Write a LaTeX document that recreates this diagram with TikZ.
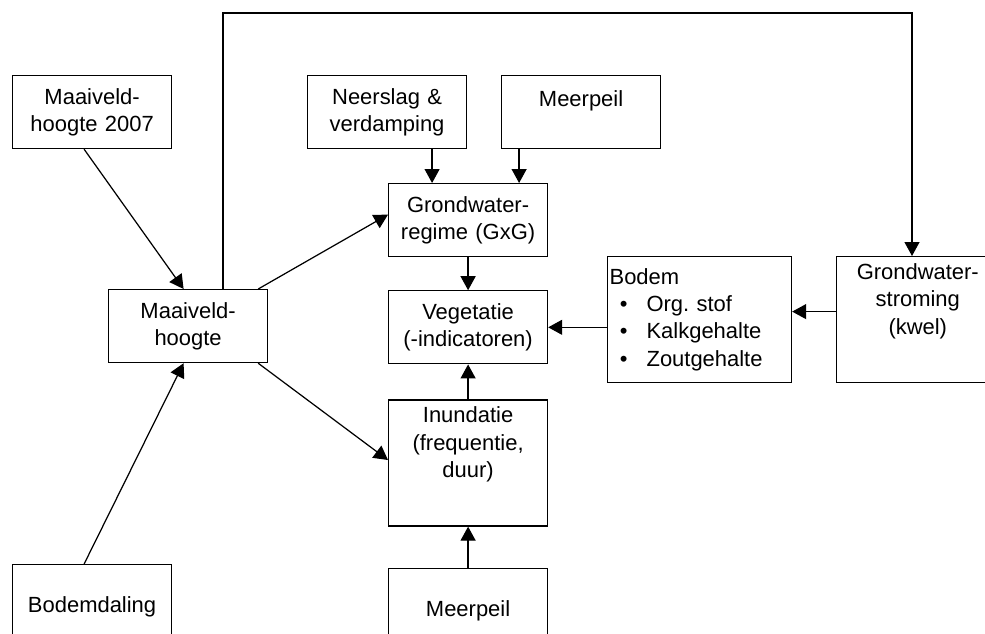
\documentclass[tikz,border=0pt]{standalone}
\usepackage{fontspec}
\setmainfont{Liberation Sans}
\usetikzlibrary{arrows.meta}
\usetikzlibrary{positioning}
\newcommand{\bul}{\makebox[0.56cm]{\textbullet}\hspace{0.18cm}}
\tikzset{
    box/.style = {
        rectangle,
        anchor=north west,
        text width=3.1cm,
        minimum height=1.46cm,
        inner sep=0.04cm,
        align=center,
        font=\fontsize{12.5}{15.6}\selectfont,
        line width=0.7pt,
        draw,
    },
}
\tikzstyle{arrow} = [line width=0.7pt,-{Triangle[length=0.28cm,width=0.3cm]}]

\begin{document}
\begin{tikzpicture}[x=0.02cm, y=-0.02cm]
        \useasboundingbox (0,0) rectangle (985,633);
        \clip (0,0) rectangle (985,633);

        \node(mv07) [box] at (12,75)
        {Maaiveld-\\hoogte 2007};
        \node(neer) [box] at (307,75)
        {Neerslag \&\\verdamping};
        \node(meer1) [box] at (501,75)
        {Meerpeil\\\mbox{}};
        \node(gwr) [box] at (388,183)
        {Grondwater-\\regime (GxG)};
        \node(veg) [box, below = 0.66cm of gwr]
        {Vegetatie\\(-indicatoren)};
        \node(inun) [box, below = 0.7cm of veg, minimum height=2.52cm]
        {Inundatie\\(frequentie,\\duur)\\[8pt]\mbox{}};
        \node(meer2) [box, below = 0.82cm of inun]
        {\mbox{}\\Meerpeil};
        \node(mv) [box] at (108,289)
        {Maaiveld-\\hoogte};
        \node(bdal) [box] at (12,564)
        {\mbox{}\\Bodemdaling};
        \node(bodem) [box, align=left, text width=3.6cm, minimum height=2.52cm] at (607,256)
        {Bodem\\\bul Org.\ stof\\\bul Kalkgehalte\\\bul Zoutgehalte};
        \node(gws) [box, right = 0.88cm of bodem, text width=3.16cm, minimum height=2.52cm]
        {Grondwater-\\stroming\\(kwel)\\[8pt]\mbox{}};

        \coordinate (tl) at (223,13);
        \coordinate (tr) at (912,13);
        \coordinate (n1) at ([xshift=0.9cm]neer.south);
        \coordinate (m1) at ([xshift=-1.24cm]meer1.south);
        \coordinate (g1) at ([yshift=0.16cm]gws.west);

        \draw [arrow] ([xshift=-0.16cm]mv07.south) -- ([xshift=-0.09cm]mv.north);
        \draw [arrow] ([xshift=-0.16cm]bdal.north) -- ([xshift=-0.09cm]mv.south);
        \draw [arrow] ([xshift=-0.2cm]mv.north east) -- ([yshift=0.11cm]gwr.west);
        \draw [arrow] ([xshift=-0.2cm]mv.south east) -- ([yshift=0.06cm]inun.west);
        \draw [arrow] (mv.north -| tl) -- (tl) -- (tr) -- (tr |- gws.north);
        \draw [arrow] (n1) -- (n1 |- gwr.north);
        \draw [arrow] (m1) -- (m1 |- gwr.north);
        \draw [arrow] (gwr) -- (veg);
        \draw [arrow] (inun) -- (veg);
        \draw [arrow] (meer2) -- (inun);
        \draw [arrow] (bodem.west |- veg.east) -- (veg.east);
        \draw [arrow] (g1) -- (g1 -| bodem.east);

    \end{tikzpicture}
\end{document}
